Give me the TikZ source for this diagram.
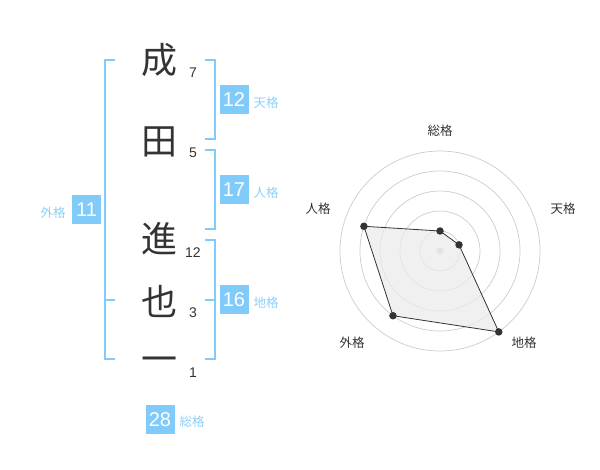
\documentclass[tikz,border=0pt]{standalone}
\usepackage{fontspec}
\setmainfont{Liberation Sans}
\newfontfamily\cjk{Noto Sans CJK JP}
\begin{document}
\begin{tikzpicture}[x=1pt,y=-1pt,
  brk/.style={draw=bracketblue,line width=2pt},
  numbox/.style={fill=boxblue,text=white,minimum size=29pt,inner sep=0pt,font=\fontsize{20}{20}\selectfont},
  kaku/.style={text=labelblue,font=\cjk\fontsize{12.5}{13}\selectfont,inner sep=0pt},
  kanji/.style={text=kanjigray,font=\cjk\fontsize{36}{36}\selectfont,inner sep=0pt},
  stroke/.style={text=kanjigray,font=\fontsize{14}{14}\selectfont,inner sep=0pt},
  ring/.style={draw=ringgray,line width=0.7pt},
  axlabel/.style={text=kanjigray,font=\cjk\fontsize{12.5}{13}\selectfont,inner sep=0pt},
  dot/.style={circle,fill=kanjigray,inner sep=0pt,minimum size=7.5pt}
]
\definecolor{bracketblue}{HTML}{80CBFA}
\definecolor{boxblue}{HTML}{80CBFA}
\definecolor{labelblue}{HTML}{8CD0FA}
\definecolor{kanjigray}{HTML}{333333}
\definecolor{ringgray}{HTML}{CCCCCC}
\useasboundingbox (0,0) rectangle (600,470);

% kanji
\node[kanji] (k1) at (159,60) {成};
\node[kanji] (k2) at (159,142) {田};
\node[kanji] (k3) at (159,239) {進};
\node[kanji] (k4) at (159,301) {也};
\node[kanji] (k5) at (159,365) {一};

% stroke counts
\node[stroke] (s1) at (193,73) {7};
\node[stroke] (s2) at (193,153) {5};
\node[stroke] (s3) at (193,253) {12};
\node[stroke] (s4) at (193,313) {3};
\node[stroke] (s5) at (193,373) {1};

% brackets
\coordinate (L1) at (105,60); \coordinate (L2) at (105,359);
\draw[brk] (115,60) -- (L1) -- (L2) -- (115,359);
\draw[brk] (105,300) -- (115,300);
\draw[brk] (205,60) -- (215,60) -- (215,139) -- (205,139);
\draw[brk] (205,150) -- (215,150) -- (215,229) -- (205,229);
\draw[brk] (205,240) -- (215,240) -- (215,359) -- (205,359);
\draw[brk] (205,300) -- (215,300);

% boxes
\node[numbox] (b12) at (234,100) {12};
\node[kaku] (t12) at (266,103) {天格};
\node[numbox] (b17) at (234,190) {17};
\node[kaku] (t17) at (266,193) {人格};
\node[numbox] (b16) at (234,300) {16};
\node[kaku] (t16) at (266,303) {地格};
\node[numbox] (b11) at (86.5,210) {11};
\node[kaku] (t11) at (53,213) {外格};
\node[numbox] (b28) at (160,419.5) {28};
\node[kaku] (t28) at (192,422) {総格};

% radar
\coordinate (c) at (440,251);
\foreach \r in {20,40,60,80,100}{
  \draw[ring] (c) circle[radius=\r pt];
}
\fill[ringgray] (c) circle[radius=3.5pt];
\coordinate (p1) at ([shift={(90:20pt)}]c);
\coordinate (p2) at ([shift={(18:20pt)}]c);
\coordinate (p3) at ([shift={(-54:100pt)}]c);
\coordinate (p4) at ([shift={(-126:80pt)}]c);
\coordinate (p5) at ([shift={(162:80pt)}]c);
\filldraw[fill=black!8,fill opacity=0.75,draw=kanjigray,line width=0.8pt]
  (p1) -- (p2) -- (p3) -- (p4) -- (p5) -- cycle;
\foreach \p in {p1,p2,p3,p4,p5}{
  \node[dot] at (\p) {};
}
\node[axlabel] (a1) at (440,130.5) {総格};
\node[axlabel] (a2) at (563,208.5) {天格};
\node[axlabel] (a3) at (524,342.5) {地格};
\node[axlabel] (a4) at (352,342.5) {外格};
\node[axlabel] (a5) at (318,208.5) {人格};
\end{tikzpicture}
\end{document}
